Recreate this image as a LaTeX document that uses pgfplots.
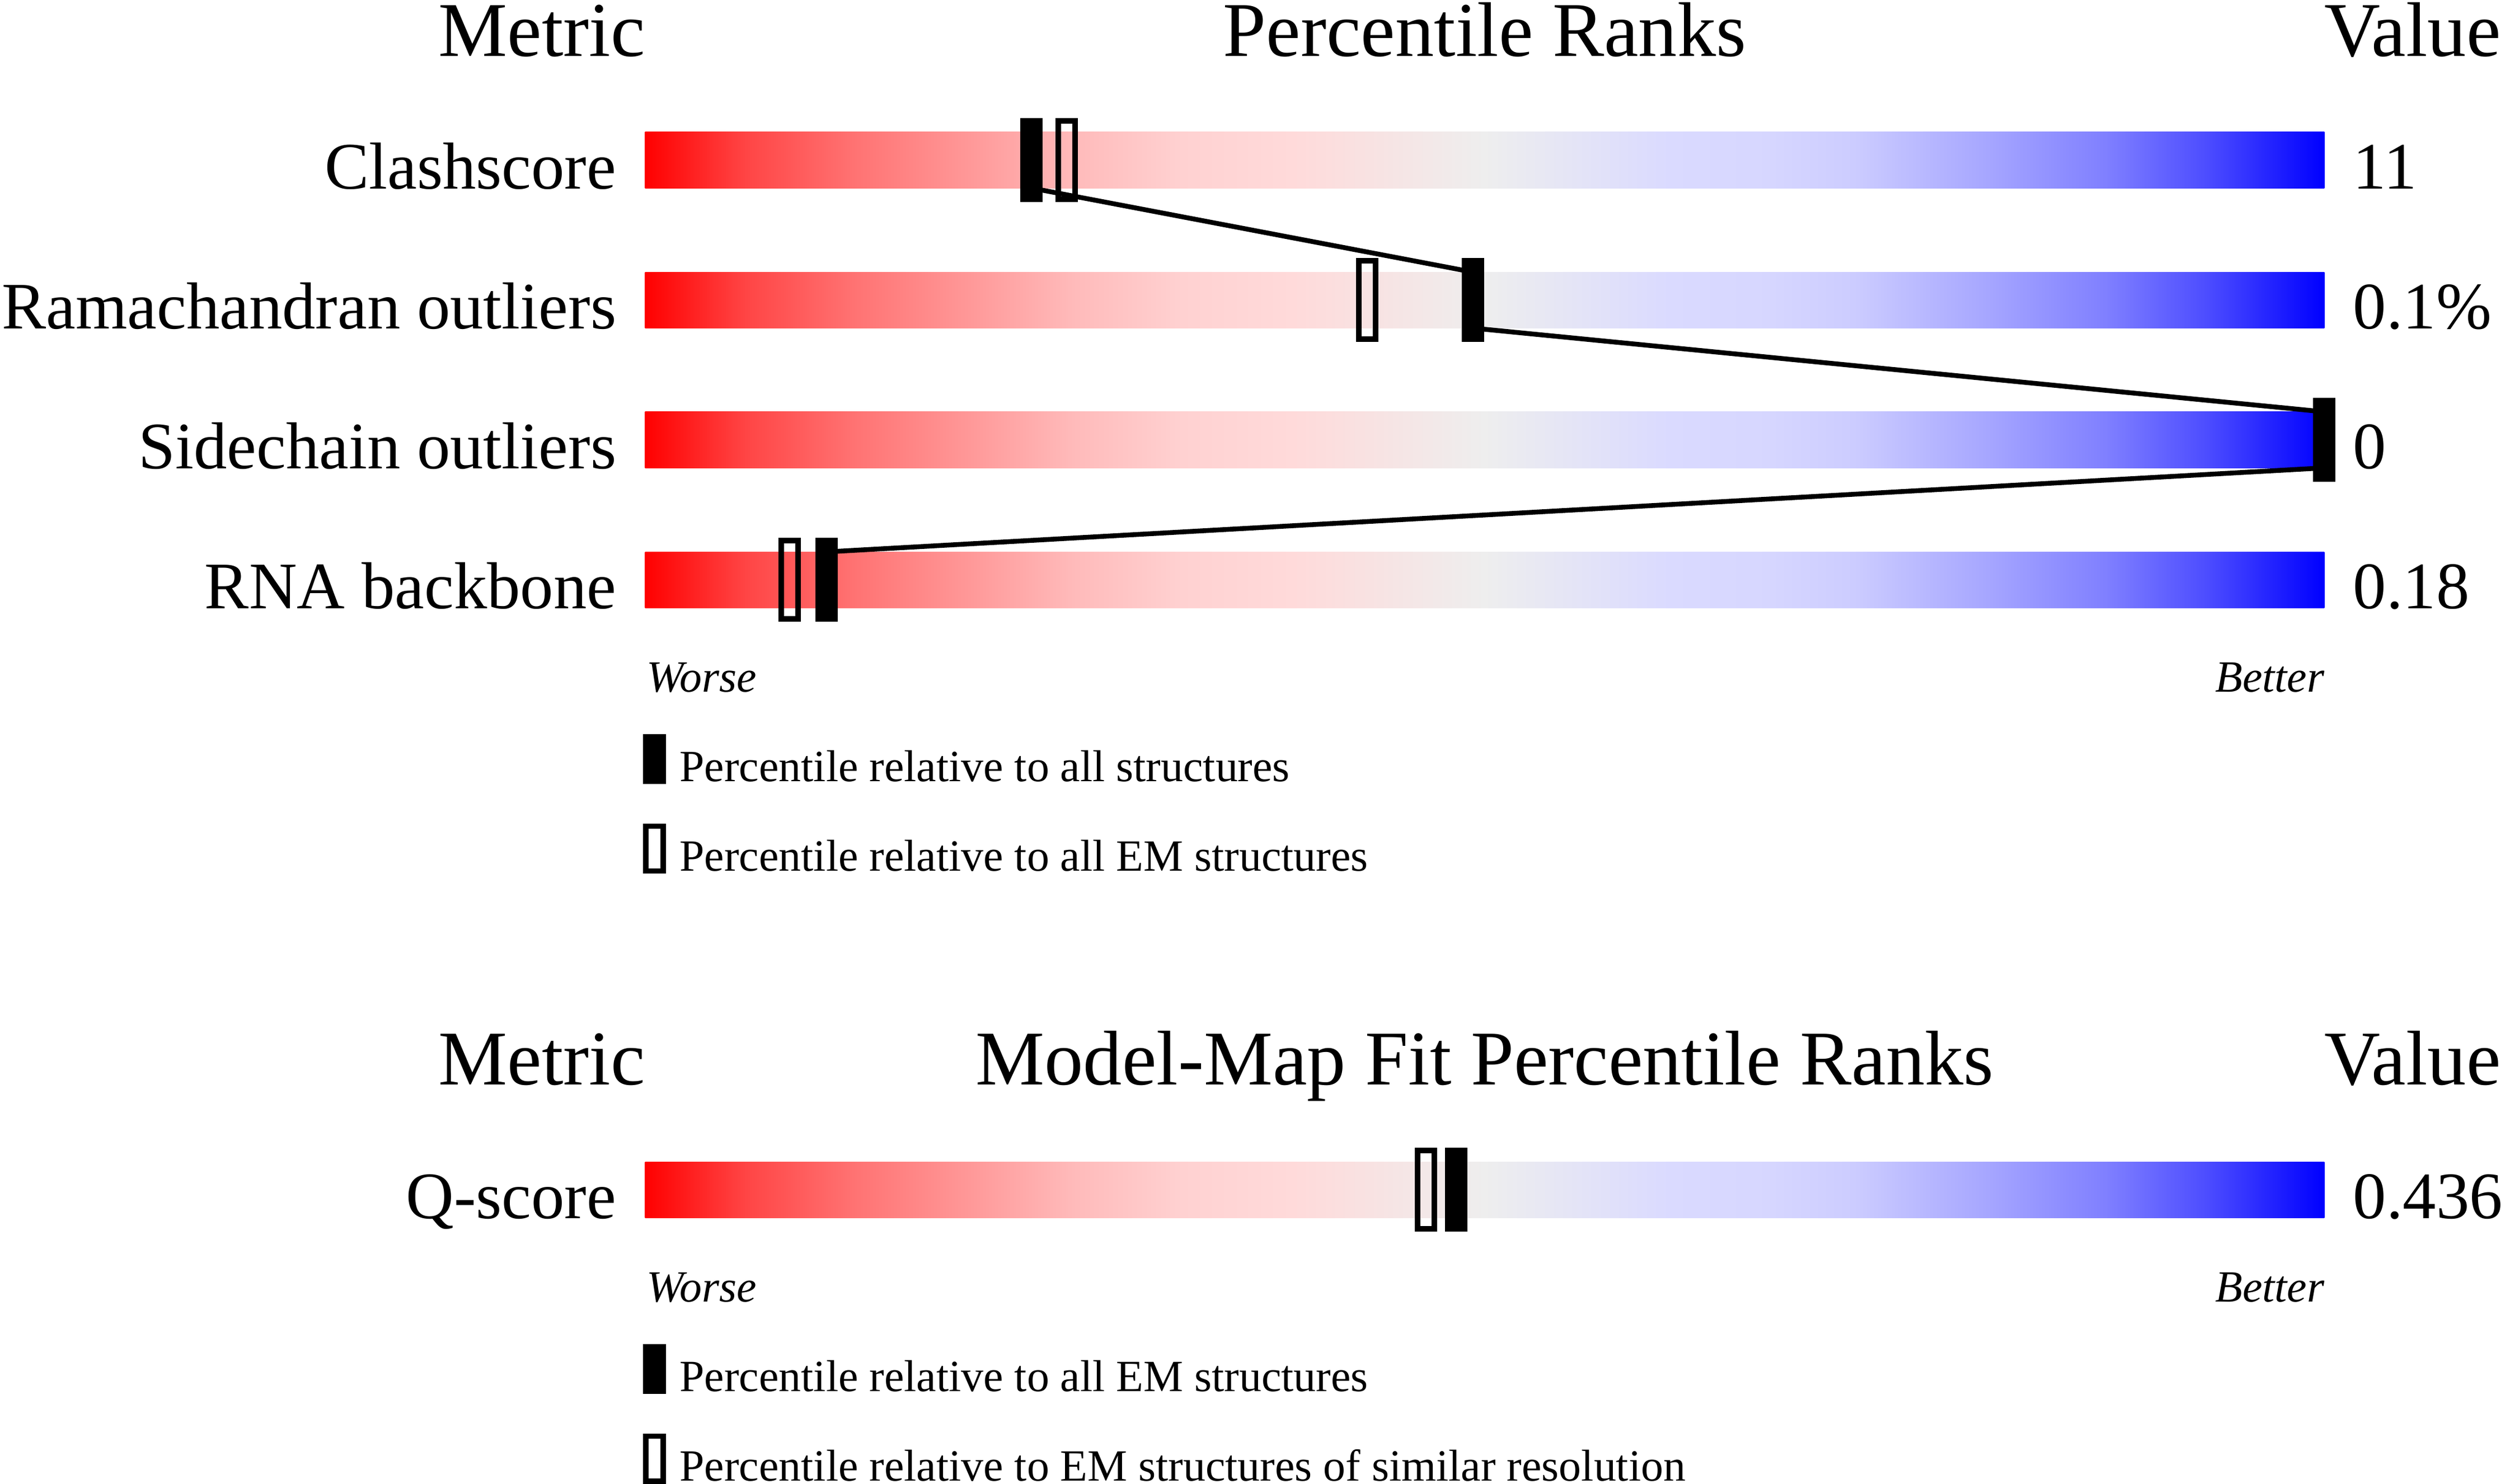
\documentclass[border=0pt]{standalone}
\usepackage{fontspec}
\setmainfont{Liberation Serif}
\usepackage{pgfplots}
\pgfplotsset{compat=1.18}

\pgfdeclarehorizontalshading{slider}{100bp}{
rgb(0bp)=(1,0,0);
rgb(25bp)=(1,0,0);
rgb(28bp)=(1,0.27,0.27);
rgb(31.25bp)=(1,0.45,0.45);
rgb(34.5bp)=(1,0.59,0.59);
rgb(37.75bp)=(1,0.73,0.73);
rgb(41bp)=(1,0.82,0.82);
rgb(44.25bp)=(1,0.855,0.855);
rgb(50bp)=(0.933,0.933,0.933);
rgb(55.5bp)=(0.855,0.855,1);
rgb(58.5bp)=(0.84,0.84,1);
rgb(61bp)=(0.8,0.8,1);
rgb(65bp)=(0.65,0.65,1);
rgb(68.5bp)=(0.5,0.5,1);
rgb(71.5bp)=(0.3,0.3,1);
rgb(75bp)=(0,0,1);
rgb(100bp)=(0,0,1)}

\pgfdeclareplotmark{pfull}{\pgfpathrectangle{\pgfpoint{-3.5pt}{-13.05pt}}{\pgfpoint{7pt}{26.1pt}}\pgfusepathqfill}
\pgfdeclareplotmark{popen}{\pgfsetlinewidth{1.75pt}\pgfpathrectangle{\pgfpoint{-2.625pt}{-12.175pt}}{\pgfpoint{5.25pt}{24.35pt}}\pgfusepathqstroke}
\pgfdeclareplotmark{lfull}{\pgfpathrectangle{\pgfpoint{-3.5pt}{-7.8pt}}{\pgfpoint{7pt}{15.6pt}}\pgfusepathqfill}
\pgfdeclareplotmark{lopen}{\pgfsetlinewidth{1.6pt}\pgfpathrectangle{\pgfpoint{-2.7pt}{-7pt}}{\pgfpoint{5.4pt}{14pt}}\pgfusepathqstroke}

\newcommand{\labfont}{\fontsize{20.75pt}{24pt}\selectfont}
\newcommand{\hdfont}{\fontsize{24.2pt}{28pt}\selectfont}
\newcommand{\smfont}{\fontsize{13.95pt}{16pt}\selectfont}
\tikzset{tx/.style={inner sep=0pt, outer sep=0pt}}

\begin{document}
\begin{tikzpicture}
\begin{axis}[
  width=784pt, height=463.5pt, scale only axis,
  xmin=-38.417, xmax=111.058, ymin=0, ymax=927, y dir=reverse,
  hide axis, clip=false,
]
% gradient bars
\addplot[draw=none, shade, shading=slider] coordinates {(0,82.5) (100,82.5) (100,117.5) (0,117.5)};
\addplot[draw=none, shade, shading=slider] coordinates {(0,170) (100,170) (100,205) (0,205)};
\addplot[draw=none, shade, shading=slider] coordinates {(0,257.3) (100,257.3) (100,292.3) (0,292.3)};
\addplot[draw=none, shade, shading=slider] coordinates {(0,344.8) (100,344.8) (100,379.7) (0,379.7)};
\addplot[draw=none, shade, shading=slider] coordinates {(0,725.8) (100,725.8) (100,760.8) (0,760.8)};
% connecting line through the percentiles relative to all structures
\addplot[black, line width=1.5pt, line join=round, mark=none] coordinates {(23,117.5) (49.3,170) (49.3,205) (100,257.3) (100,292.3) (10.8,344.8)};
% open markers
\addplot[black, only marks, mark=popen] coordinates {(25.1,100) (43,187.4) (8.6,362.2) (46.5,743.3)};
% filled markers
\addplot[black, only marks, mark=pfull] coordinates {(23,100) (49.3,187.4) (100,274.8) (10.8,362.2) (48.3,743.3)};
% legend markers
\addplot[black, only marks, mark=lfull] coordinates {(0.56,474.2) (0.56,855.3)};
\addplot[black, only marks, mark=lopen] coordinates {(0.56,530.3) (0.56,911.4)};

% headers
\node[tx, anchor=base east, font=\hdfont] at (axis cs:0,35.2) {Metric};
\node[tx, anchor=base, font=\hdfont] at (axis cs:50,35.2) {Percentile Ranks};
\node[tx, anchor=base west, font=\hdfont] at (axis cs:100,35.2) {Value};
\node[tx, anchor=base east, font=\hdfont] at (axis cs:0,677.8) {Metric};
\node[tx, anchor=base, font=\hdfont] at (axis cs:50,677.8) {Model-Map Fit Percentile Ranks};
\node[tx, anchor=base west, font=\hdfont] at (axis cs:100,677.8) {Value};

% row labels
\node[tx, anchor=base east, font=\labfont] at (axis cs:-1.72,118) {Clashscore};
\node[tx, anchor=base east, font=\labfont] at (axis cs:-1.72,205.5) {Ramachandran outliers};
\node[tx, anchor=base east, font=\labfont] at (axis cs:-1.72,292.8) {Sidechain outliers};
\node[tx, anchor=base east, font=\labfont] at (axis cs:-1.72,380.2) {RNA backbone};
\node[tx, anchor=base east, font=\labfont] at (axis cs:-1.72,761.3) {Q-score};

% values
\node[tx, anchor=base west, font=\labfont] at (axis cs:101.72,118) {11};
\node[tx, anchor=base west, font=\labfont] at (axis cs:101.72,205.5) {0.1\%};
\node[tx, anchor=base west, font=\labfont] at (axis cs:101.72,292.8) {0};
\node[tx, anchor=base west, font=\labfont] at (axis cs:101.72,380.2) {0.18};
\node[tx, anchor=base west, font=\labfont] at (axis cs:101.72,761.3) {0.436};

% worse / better
\node[tx, anchor=base west, font=\smfont\itshape] at (axis cs:0.1,432.4) {Worse};
\node[tx, anchor=base east, font=\smfont\itshape] at (axis cs:100,432.4) {Better};
\node[tx, anchor=base west, font=\smfont\itshape] at (axis cs:0.1,813.5) {Worse};
\node[tx, anchor=base east, font=\smfont\itshape] at (axis cs:100,813.5) {Better};

% legend texts
\node[tx, anchor=base west, font=\smfont] at (axis cs:2.06,488.3) {Percentile relative to all structures};
\node[tx, anchor=base west, font=\smfont] at (axis cs:2.06,544) {Percentile relative to all EM structures};
\node[tx, anchor=base west, font=\smfont] at (axis cs:2.06,869.4) {Percentile relative to all EM structures};
\node[tx, anchor=base west, font=\smfont] at (axis cs:2.06,925.1) {Percentile relative to EM structures of similar resolution};
\end{axis}
\pgfresetboundingbox
\path[use as bounding box] (current axis.south west) rectangle (current axis.north east);
\end{tikzpicture}
\end{document}
